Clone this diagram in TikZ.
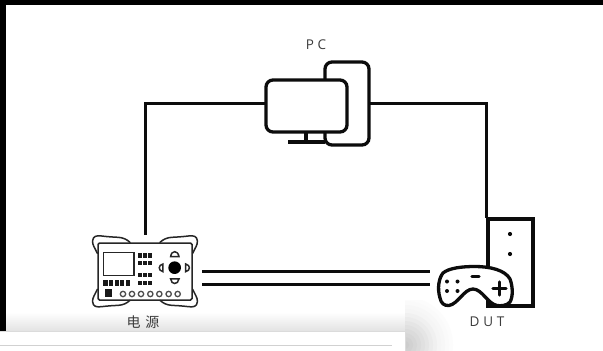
\documentclass[tikz,border=0pt]{standalone}
\usepackage{fontspec}
\setmainfont{Open Sans}
\newfontfamily\cjk{Noto Sans CJK SC}
\usetikzlibrary{calc}
\definecolor{ink}{HTML}{0C0C0C}
\definecolor{lab}{HTML}{3C3C3C}
\tikzset{
 wire/.style={draw=ink,line width=3pt},
 icon/.style={draw=ink,line width=3.3pt,fill=white,rounded corners=7pt,inner sep=0pt,outer sep=0pt},
 thick icon/.style={draw=ink,line width=3.3pt},
 psuline/.style={draw=black!85,line width=1.5pt},
 lbl/.style={text=lab,inner sep=0pt},
 spaced/.style={lbl,font=\fontsize{13.5}{15}\selectfont\addfontfeatures{LetterSpace=28}},
 box/.style={inner sep=0pt,outer sep=0pt,anchor=north west}
}
\begin{document}
\begin{tikzpicture}[x=1pt,y=-1pt]
\useasboundingbox (0,0) rectangle (603,351);
\fill[white] (0,0) rectangle (603,351);
% screenshot artefacts
\shade[top color=white,bottom color=black!11] (6,312) rectangle (405,331);
\begin{scope}
 \clip (405,300) rectangle (470,351);
 \foreach \r/\v in {48/1,44/2,40/3,36/4,32/6,28/8,24/10,20/12,16/14,12/16,8/18,4/20}{
  \fill[black!\v] (405,345) circle (\r);}
\end{scope}
\fill[white] (0,331) rectangle (405,351);
\draw[black!14,line width=.8pt] (0,331) -- (405,331) -- (405,351);
\draw[black!18,line width=.8pt] (0,345) -- (392,345);
\fill[black] (0,0) rectangle (603,5);
\fill[black] (0,0) rectangle (6,331);

% PC
\node[icon,box,minimum width=44pt,minimum height=83pt] (tower) at (325,62) {};
\draw[thick icon] (306,132) -- (306,142);
\draw[thick icon] (288,142) -- (325,142);
\node[icon,box,minimum width=81pt,minimum height=52pt] (monitor) at (266,80) {};
\node[spaced] (pclabel) at (316,45) {PC};

% DUT tower
\node[draw=ink,line width=3.3pt,box,minimum width=45pt,minimum height=87pt] (duttower) at (488,219) {};
\fill[ink] (510,234) circle (2.1) (510,254) circle (2.1);
\coordinate (dutport) at (486,218);

% game pad
\draw[ink,line width=3.3pt,fill=white,line join=round] (475,266.5)
 .. controls (490,266.5) and (505,270) .. (510,279)
 .. controls (513,287) and (513,297) .. (510,302)
 .. controls (507,306) and (500,306) .. (497,305.5)
 .. controls (488,304) and (482,289) .. (473,289)
 .. controls (464,289) and (458,304) .. (449,305.5)
 .. controls (444,306) and (441,303) .. (440,298)
 .. controls (437,288) and (439,278) .. (443,273)
 .. controls (449,268) and (462,266.5) .. (475,266.5) -- cycle;
\fill[ink] (447,281.5) circle (2) (457.5,281.5) circle (2) (447,291) circle (2) (457.5,291) circle (2);
\draw[ink,line width=3.3pt,line cap=round] (472,276.5) -- (479,276.5);
\draw[ink,line width=3.3pt,line cap=round] (493,288.5) -- (506,288.5) (499.5,282) -- (499.5,295);
\node[spaced] (dutlabel) at (487,322) {DUT};

% power supply
\node[psuline,box,rounded corners=1.5pt,minimum width=94pt,minimum height=57pt] (psu) at (98,243) {};
\coordinate (psuport) at (145,235);
\begin{scope}[shift={(70,210)},x=.3333pt,y=-.3333pt]
 \foreach \sx/\sy in {1/1,-1/1,1/-1,-1/-1}{
  \begin{scope}[shift={(225,184)},xscale=\sx,yscale=\sy]
   \draw[psuline,line cap=round,line join=round] (-143,-54) .. controls (-150,-70) and (-159,-80) .. (-157,-92)
    .. controls (-156,-106) and (-145,-108) .. (-130,-106)
    .. controls (-105,-103) and (-95,-103) .. (-80,-102)
    .. controls (-65,-101) and (-55,-96) .. (-45,-87);
  \end{scope}}
 \draw[draw=black!85,line width=1.6pt] (100,128) rectangle (192,197);
 \foreach \y in {137,160,196,219}{\foreach \x in {209,225,241}{\fill[black!90] (\x-6,\y-6.5) rectangle (\x+6,\y+6.5);}}
 \foreach \x in {107,124,141,157,174}{\fill[black!90] (\x-6.5,210) rectangle (\x+6.5,228);}
 \fill[black!90] (105,238) rectangle (127,262);
 \foreach \x in {159,186,213,241,268,296,323}{\draw[draw=black!70,line width=1.3pt] (\x,252) circle (8);}
 \fill[black] (314,173) circle (19);
 \draw[psuline] (302,140) .. controls (304,120) and (324,120) .. (327,140) -- cycle;
 \draw[psuline] (302,207) .. controls (304,225) and (324,225) .. (327,207) -- cycle;
 \draw[psuline] (279,162) .. controls (264,165) and (264,182) .. (279,185) -- cycle;
 \draw[psuline] (347,162) .. controls (362,165) and (362,182) .. (347,185) -- cycle;
\end{scope}
\node[lbl,font=\cjk\fontsize{14}{16}\selectfont] (psulabel) at (143,322) {电\hspace{5pt}源};

% connectors
\draw[wire] ($(monitor.west)+(0,-3)$) -| (psuport);
\draw[wire] (tower.east) -| (dutport);
\coordinate (busa) at (202,271);
\coordinate (busb) at (202,284);
\coordinate (padA) at (430,271);
\coordinate (padB) at (430,284);
\draw[wire] (busa) -- (padA);
\draw[wire] (busb) -- (padB);
\end{tikzpicture}
\end{document}
